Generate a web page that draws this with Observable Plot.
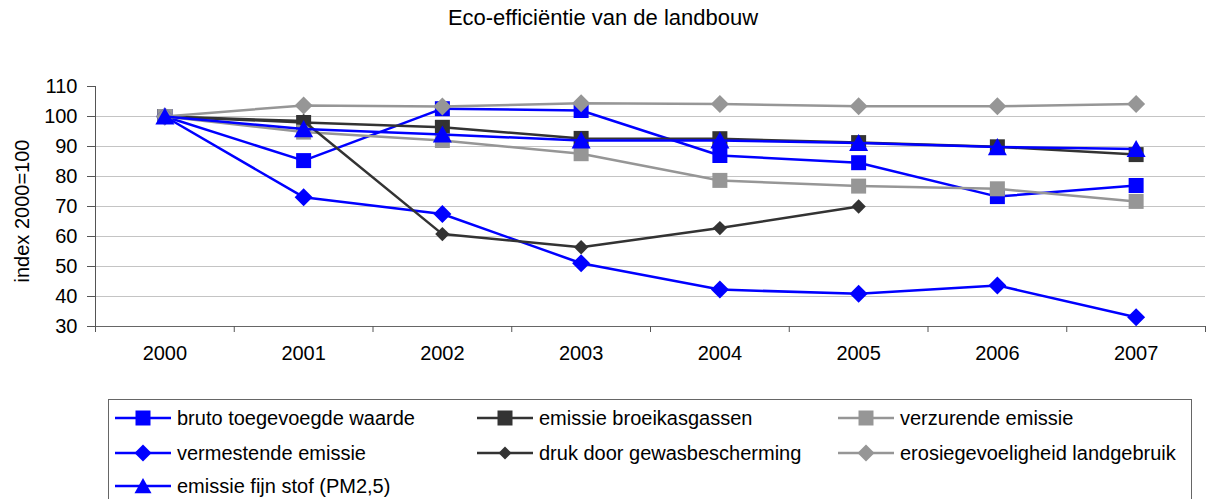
<!DOCTYPE html>
<html>
<head>
<meta charset="utf-8">
<script src="https://cdn.jsdelivr.net/npm/d3@7"></script>
<script src="https://cdn.jsdelivr.net/npm/@observablehq/plot@0.6"></script>
<style>
  html, body { margin: 0; padding: 0; background: #fff; }
  #wrap { position: relative; width: 1206px; height: 499px; overflow: hidden; font-family: "Liberation Sans", Arial, sans-serif; color: #000; }
  #title { position: absolute; left: 0; top: 0; width: 1206px; height: 40px; text-align: center; font-size: 22px; line-height: 36px; }
  #chart { position: absolute; left: 0; top: 40px; }
  #ylabel { position: absolute; left: 22px; top: 211px; transform: translate(-50%, -50%) rotate(-90deg); white-space: nowrap; font-size: 20px; }
  #legend { position: absolute; left: 108px; top: 399px; width: 1084px; height: 120px; border: 1px solid #666; box-sizing: border-box; }
  .item { position: absolute; height: 24px; display: flex; align-items: center; font-size: 20px; white-space: nowrap; }
  .item svg { margin-right: 6px; }
</style>
</head>
<body>
<div id="wrap">
  <div id="title"></div>
  <div id="chart"></div>
  <div id="ylabel"></div>
  <div id="legend"></div>
</div>
<script>
const titleText = "Eco-efficiëntie van de landbouw";
const yLabelText = "index 2000=100";
const years = [2000, 2001, 2002, 2003, 2004, 2005, 2006, 2007];
const yTicks = [30, 40, 50, 60, 70, 80, 90, 100, 110];
const gridTicks = [40, 50, 60, 70, 80, 90, 100];

const seriesNames = [
  "bruto toegevoegde waarde",
  "emissie broeikasgassen",
  "verzurende emissie",
  "vermestende emissie",
  "druk door gewasbescherming",
  "erosiegevoeligheid landgebruik",
  "emissie fijn stof (PM2,5)"
];
const brutoToegevoegdeWaarde = [100, 85.3, 102.6, 102.0, 87.0, 84.6, 73.3, 77.0];
const emissieBroeikasgassen = [100, 98.0, 96.4, 92.7, 92.6, 91.3, 89.9, 87.3];
const verzurendeEmissie = [100, 94.8, 92.0, 87.6, 78.7, 76.8, 75.9, 71.7];
const vermestendeEmissie = [100, 73.1, 67.5, 51.1, 42.3, 40.9, 43.7, 33.1];
const drukDoorGewasbescherming = [100, 98.5, 60.8, 56.4, 62.8, 70.0, null, null];
const erosiegevoeligheidLandgebruik = [100, 103.7, 103.3, 104.4, 104.2, 103.4, 103.4, 104.2];
const emissieFijnStof = [100, 95.8, 94.0, 92.0, 92.0, 91.2, 89.8, 89.2];

const seriesValues = [
  brutoToegevoegdeWaarde, emissieBroeikasgassen, verzurendeEmissie,
  vermestendeEmissie, drukDoorGewasbescherming, erosiegevoeligheidLandgebruik, emissieFijnStof
];

// custom marker shapes (size = pi * r^2, so r is recovered)
const rOf = size => Math.sqrt(size / Math.PI);
const symSquare = {draw(ctx, size) { const r = rOf(size); ctx.moveTo(-r, -r); ctx.lineTo(r, -r); ctx.lineTo(r, r); ctx.lineTo(-r, r); ctx.closePath(); }};
const symDiamond = {draw(ctx, size) { const r = rOf(size); ctx.moveTo(0, -r); ctx.lineTo(r, 0); ctx.lineTo(0, r); ctx.lineTo(-r, 0); ctx.closePath(); }};
const symTriangle = {draw(ctx, size) { const r = rOf(size); ctx.moveTo(0, -0.95 * r); ctx.lineTo(r, 0.85 * r); ctx.lineTo(-r, 0.85 * r); ctx.closePath(); }};

const BLUE = "#0000ff", DARK = "#333333", GRAY = "#969696";
const styles = [
  {color: BLUE, symbol: symSquare, r: 7.5, lr: 7.5},
  {color: DARK, symbol: symSquare, r: 7.5, lr: 7.5},
  {color: GRAY, symbol: symSquare, r: 7.5, lr: 7.5},
  {color: BLUE, symbol: symDiamond, r: 9, lr: 8.5},
  {color: DARK, symbol: symDiamond, r: 7.2, lr: 6.5},
  {color: GRAY, symbol: symDiamond, r: 9, lr: 8.5},
  {color: BLUE, symbol: symTriangle, r: 9.5, lr: 8.5}
];

const rows = seriesNames.map((name, s) =>
  years.map((year, i) => ({series: name, year, value: seriesValues[s][i]}))
       .filter(d => d.value != null)
);

const xDomain = [years[0] - 0.5, years[years.length - 1] + 0.5];
const boundaries = [xDomain[0], ...years.map(y => y + 0.5)];

const marks = [
  Plot.ruleY(gridTicks, {stroke: "#c4c4c4", strokeWidth: 1}),
  Plot.ruleX([xDomain[0]], {stroke: "#555", strokeWidth: 1}),
  Plot.ruleY([yTicks[0]], {stroke: "#666", strokeWidth: 1.2}),
  Plot.axisY(yTicks, {tickSize: 8, tickPadding: 10, fontSize: 20, stroke: "#555", label: null}),
  Plot.axisX(boundaries, {tickSize: 6, tickFormat: () => "", stroke: "#555", label: null}),
  Plot.axisX(years, {tickSize: 0, tickPadding: 19, fontSize: 20, tickFormat: d => String(d), label: null})
];
rows.forEach((data, s) => {
  const st = styles[s];
  marks.push(Plot.line(data, {x: "year", y: "value", stroke: st.color, strokeWidth: 2.5}));
  marks.push(Plot.dot(data, {x: "year", y: "value", symbol: st.symbol, r: st.r, fill: st.color, stroke: "none"}));
});

const chart = Plot.plot({
  width: 1206,
  height: 350,
  marginLeft: 95,
  marginRight: 1,
  marginTop: 46,
  marginBottom: 64,
  x: {domain: xDomain},
  y: {domain: [yTicks[0], yTicks[yTicks.length - 1]]},
  style: {fontFamily: "'Liberation Sans', Arial, sans-serif", fontSize: "20px", color: "#000", background: "#fff", overflow: "visible"},
  marks
});
document.getElementById("chart").appendChild(chart);
document.getElementById("title").textContent = titleText;
document.getElementById("ylabel").textContent = yLabelText;

// legend
const legend = document.getElementById("legend");
const colLeft = [6, 368, 729];
const rowTop = [6, 41, 74];
const order = [0, 1, 2, 3, 4, 5, 6];
order.forEach((s, k) => {
  const st = styles[s];
  const item = document.createElement("div");
  item.className = "item";
  item.style.left = colLeft[k % 3] + "px";
  item.style.top = rowTop[Math.floor(k / 3)] + "px";
  const ns = "http://www.w3.org/2000/svg";
  const svg = document.createElementNS(ns, "svg");
  svg.setAttribute("width", 56); svg.setAttribute("height", 24);
  const line = document.createElementNS(ns, "line");
  line.setAttribute("x1", 0); line.setAttribute("x2", 56);
  line.setAttribute("y1", 12); line.setAttribute("y2", 12);
  line.setAttribute("stroke", st.color); line.setAttribute("stroke-width", 2.5);
  svg.appendChild(line);
  const p = d3.path();
  st.symbol.draw(p, Math.PI * st.lr * st.lr);
  const path = document.createElementNS(ns, "path");
  path.setAttribute("d", p.toString());
  path.setAttribute("transform", "translate(28,12)");
  path.setAttribute("fill", st.color);
  svg.appendChild(path);
  item.appendChild(svg);
  const span = document.createElement("span");
  span.textContent = seriesNames[s];
  item.appendChild(span);
  legend.appendChild(item);
});
</script>
</body>
</html>
